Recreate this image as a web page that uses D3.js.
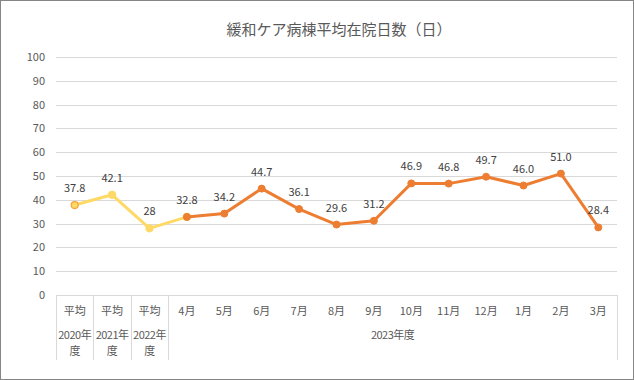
<!DOCTYPE html>
<html><head><meta charset="utf-8">
<script src="https://cdn.jsdelivr.net/npm/d3@7"></script>
<style>
body{margin:0;background:#fff;}
svg{display:block;font-family:"Noto Sans CJK JP","Noto Sans",sans-serif;}
</style></head>
<body>
<svg id="c" width="634" height="380"></svg>
<script>
const title = "緩和ケア病棟平均在院日数（日）";
const categories = ["平均","平均","平均","4月","5月","6月","7月","8月","9月","10月","11月","12月","1月","2月","3月"];
const groupLabels = [["2020年","度"],["2021年","度"],["2022年","度"],["2023年度"]];
const groupSpans = [[0,0],[1,1],[2,2],[3,14]];
const values = [37.8,42.1,28,32.8,34.2,44.7,36.1,29.6,31.2,46.9,46.8,49.7,46.0,51.0,28.4];
const valueLabels = ["37.8","42.1","28","32.8","34.2","44.7","36.1","29.6","31.2","46.9","46.8","49.7","46.0","51.0","28.4"];
const yTicks = [0,10,20,30,40,50,60,70,80,90,100];
const pastIdx = [0,1,2,3];
const currIdx = [3,4,5,6,7,8,9,10,11,12,13,14];

const svg = d3.select("#c");
const L=56, R=617, T=57, B=295;
svg.append("rect").attr("x",0.5).attr("y",0.5).attr("width",633).attr("height",379)
  .attr("fill","#fff").attr("stroke","#868686");

svg.append("text").attr("x",339).attr("y",35).attr("text-anchor","middle")
  .attr("font-size",15).attr("fill","#595959").text(title);

const x = d3.scaleBand().domain(d3.range(categories.length)).range([L,R]);
const y = d3.scaleLinear().domain([0,100]).range([B,T]);

// grid
svg.append("g").selectAll("line").data(yTicks.filter(d=>d>0)).join("line")
  .attr("x1",L).attr("x2",R).attr("y1",d=>Math.round(y(d))+0.5).attr("y2",d=>Math.round(y(d))+0.5)
  .attr("stroke","#D9D9D9").attr("stroke-width",1);
// y labels
svg.append("g").selectAll("text").data(yTicks).join("text")
  .attr("x",45).attr("y",d=>y(d)+4).attr("text-anchor","end")
  .attr("font-size",11).attr("fill","#595959").text(d=>d);

// category axis
const ax = svg.append("g").attr("stroke","#D9D9D9").attr("stroke-width",1);
ax.append("line").attr("x1",L).attr("x2",R).attr("y1",B+0.5).attr("y2",B+0.5);
const seps = [0,1,2,3].map(i=>x(i)).concat([R]);
ax.selectAll(".sep").data(seps).join("line")
  .attr("x1",d=>Math.round(d)+0.5).attr("x2",d=>Math.round(d)+0.5)
  .attr("y1",B).attr("y2",360);
svg.append("g").selectAll("text").data(categories).join("text")
  .attr("x",(d,i)=>x(i)+x.bandwidth()/2).attr("y",315).attr("text-anchor","middle")
  .attr("font-size",11).attr("fill","#595959").text(d=>d);
groupSpans.forEach((s,gi)=>{
  const cx = (x(s[0]) + x(s[1]) + x.bandwidth())/2;
  groupLabels[gi].forEach((t,li)=>{
    svg.append("text").attr("x",cx).attr("y",339+li*16).attr("text-anchor","middle")
      .attr("font-size",11).attr("fill","#595959").attr("letter-spacing",-0.5).text(t);
  });
});

const line = d3.line().x(i=>x(i)+x.bandwidth()/2).y(i=>y(values[i]));
svg.append("path").attr("d",line(pastIdx)).attr("fill","none").attr("stroke","#FFD966")
  .attr("stroke-width",3).attr("stroke-linejoin","round");
svg.append("g").selectAll("circle").data(pastIdx).join("circle")
  .attr("cx",i=>x(i)+x.bandwidth()/2).attr("cy",i=>y(values[i])).attr("r",3.5)
  .attr("fill","#FFD966").attr("stroke",i=>i===0?"#F4A13C":"#FFD966").attr("stroke-width",1.2);
svg.append("path").attr("d",line(currIdx)).attr("fill","none").attr("stroke","#ED7D31")
  .attr("stroke-width",3).attr("stroke-linejoin","round");
svg.append("g").selectAll("circle").data(currIdx).join("circle")
  .attr("cx",i=>x(i)+x.bandwidth()/2).attr("cy",i=>y(values[i])).attr("r",3.5)
  .attr("fill","#ED7D31").attr("stroke","#ED7D31").attr("stroke-width",1);

svg.append("g").selectAll("text").data(d3.range(values.length)).join("text")
  .attr("x",i=>x(i)+x.bandwidth()/2).attr("y",i=>y(values[i])-13).attr("text-anchor","middle")
  .attr("font-size",11).attr("fill","#404040").text(i=>valueLabels[i]);
</script>
</body></html>
